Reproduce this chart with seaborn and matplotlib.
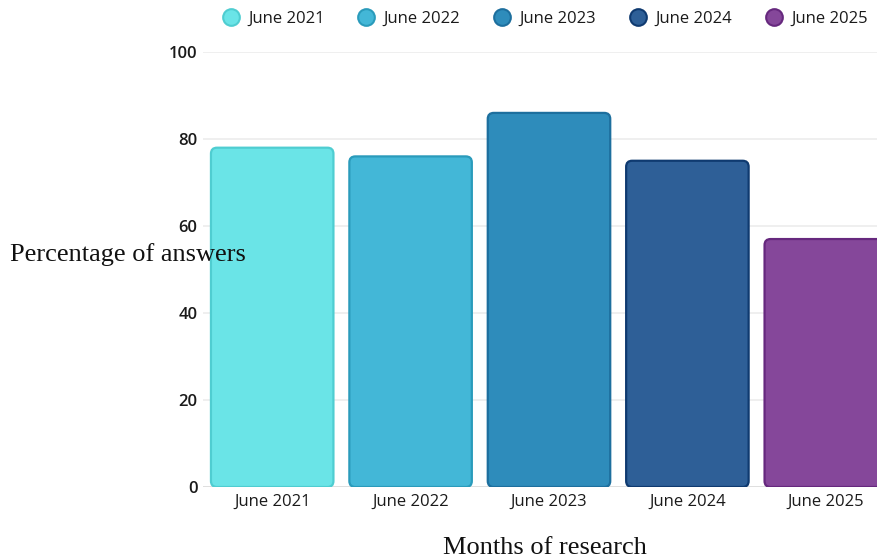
import matplotlib
matplotlib.use("Agg")
import matplotlib.pyplot as plt
from matplotlib.patches import FancyBboxPatch
from matplotlib.lines import Line2D
import seaborn as sns
import pandas as pd

months = ["June 2021", "June 2022", "June 2023", "June 2024", "June 2025"]
percentages = [78, 76, 86, 75, 57]
fill_colors = ["#6ae4e7", "#43b7d7", "#2e8cbb", "#2e5f97", "#85479a"]
edge_colors = ["#4fcdd1", "#2a9bbb", "#1d6f9e", "#0f3a70", "#66287e"]
y_ticks = [0, 20, 40, 60, 80, 100]

df = pd.DataFrame({"month": months, "pct": percentages})

sns.set_theme(style="white")
plt.rcParams["font.family"] = ["Open Sans", "DejaVu Sans"]

fig = plt.figure(figsize=(8.78, 5.6), dpi=100)
ax = fig.add_axes([203 / 878, 1 - 487 / 560, 1 - 203 / 878, (487 - 52) / 560])

sns.barplot(data=df, x="month", y="pct", hue="month", palette=fill_colors,
            width=0.885, legend=False, ax=ax, zorder=3)

# Swap the plain rectangles for rounded ones of the same geometry
px_per_x = 138.5
px_per_y = 4.35
radius_px = 6
for patch, fc, ec in zip(list(ax.patches), fill_colors, edge_colors):
    x, y = patch.get_x(), patch.get_y()
    w, h = patch.get_width(), patch.get_height()
    patch.remove()
    rounded = FancyBboxPatch(
        (x, y), w, h,
        boxstyle=f"round,pad=0,rounding_size={radius_px / px_per_x}",
        mutation_aspect=px_per_x / px_per_y,
        facecolor=fc, edgecolor=ec, linewidth=1.6, zorder=3,
    )
    ax.add_patch(rounded)

ax.set_ylim(0, 100)
ax.set_xlim(-0.5, 4.5 - 17 / px_per_x)
ax.set_yticks(y_ticks)
ax.grid(axis="y", color="#ececec", linewidth=1.2, zorder=0)
for s in ax.spines.values():
    s.set_visible(False)
ax.axhline(0, color="#dcdcdc", linewidth=1.2, zorder=1)
ax.tick_params(axis="both", length=0, labelsize=12, colors="#1a1a1a")
ax.tick_params(axis="y", pad=4)
ax.tick_params(axis="x", pad=5)
for lbl in ax.get_yticklabels():
    lbl.set_fontweight("semibold")

ax.set_xlabel("")
ax.set_ylabel("")
serif = ["Liberation Serif", "DejaVu Serif"]
fig.text(10 / 878, 1 - 255 / 560, "Percentage of answers", family=serif,
         fontsize=19, ha="left", va="center", color="#111111")
fig.text(545 / 878, 1 - 548 / 560, "Months of research", family=serif,
         fontsize=19, ha="center", va="center", color="#111111")

handles = [Line2D([], [], marker="o", linestyle="", markersize=12,
                  markerfacecolor=fc, markeredgecolor=ec, markeredgewidth=1.5)
           for fc, ec in zip(fill_colors, edge_colors)]
fig.legend(handles, months, loc="center", bbox_to_anchor=(545 / 878, 1 - 19 / 560),
           ncol=5, frameon=False, fontsize=12, handletextpad=0.55,
           columnspacing=2.0, handlelength=1.0, labelcolor="#1a1a1a")

fig.savefig("out.png", dpi=100)
